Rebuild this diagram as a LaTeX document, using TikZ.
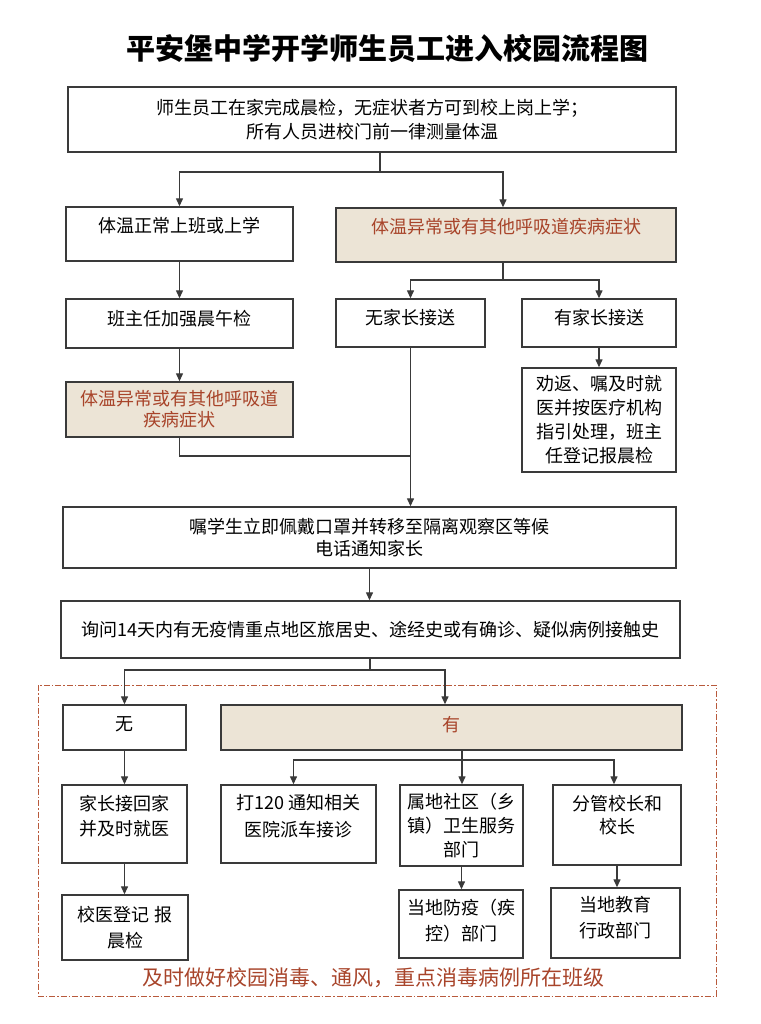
\documentclass[tikz,border=0pt]{standalone}
\usepackage{fontspec}
\setmainfont{Noto Sans CJK SC}
\usetikzlibrary{arrows.meta}

\definecolor{hotred}{HTML}{A8442A}
\definecolor{hotfill}{HTML}{ECE4D6}
\definecolor{framered}{HTML}{B85A3C}
\definecolor{linegray}{HTML}{3A3A3A}

\begin{document}
\begin{tikzpicture}[x=1pt,y=-1pt,
    box/.style={draw=linegray, line width=1.4pt, align=center, inner sep=0pt,
      font=\fontsize{18}{24}\selectfont},
    hot/.style={box, fill=hotfill, text=hotred},
    lift/.style={text depth=#1},
    link/.style={linegray, line width=1.3pt},
    arr/.style={link, -{Triangle[length=8pt,width=7pt]}}]
        \useasboundingbox (0,0) rectangle (760,1024);

        % title
        \node[font=\fontsize{29}{34}\selectfont\bfseries] (title) at (387,48) {平安堡中学开学师生员工进入校园流程图};

        % dash-dot frame of the lower part
        \draw[framered, line width=1pt, dash pattern=on 6pt off 2pt on 1.5pt off 2pt] (38,685) rectangle (716,996);

        % upper part
        \node[box, minimum width=608pt, minimum height=65pt] (start) at (372,119.5)
            {师生员工在家完成晨检，无症状者方可到校上岗上学；\\所有人员进校门前一律测量体温};
        \node[box, lift=18pt, minimum width=227pt, minimum height=54pt] (normal) at (179.5,234) {体温正常上班或上学};
        \node[hot, lift=18pt, minimum width=340pt, minimum height=54pt] (fever) at (506,235) {体温异常或有其他呼吸道疾病症状};
        \node[box, lift=12pt, minimum width=227pt, minimum height=49pt] (check) at (179.5,323.5) {班主任加强晨午检};
        \node[box, lift=12pt, minimum width=149pt, minimum height=48pt] (nopar) at (410.5,323) {无家长接送};
        \node[box, lift=12pt, minimum width=154pt, minimum height=48pt] (haspar) at (599,323) {有家长接送};
        \node[box, minimum width=154pt, minimum height=104pt] (advise) at (599,420)
            {劝返、嘱及时就\\医并按医疗机构\\指引处理，班主\\任登记报晨检};
        \node[hot, font=\fontsize{18}{21}\selectfont, minimum width=227pt, minimum height=55pt] (fever2) at (179.5,409.5)
            {体温异常或有其他呼吸道\\疾病症状};
        \node[box, font=\fontsize{18}{22}\selectfont, minimum width=613pt, minimum height=61pt] (isolate) at (369.5,537.5)
            {嘱学生立即佩戴口罩并转移至隔离观察区等候\\电话通知家长};
        \node[box, minimum width=619pt, minimum height=57pt] (ask) at (370.5,629.5)
            {询问14天内有无疫情重点地区旅居史、途经史或有确诊、疑似病例接触史};

        % lower part
        \node[box, lift=8pt, minimum width=123pt, minimum height=45pt] (none) at (124.5,727.5) {无};
        \node[hot, lift=8pt, minimum width=461pt, minimum height=45pt] (yes) at (451.5,727.5) {有};
        \node[box, font=\fontsize{18}{25}\selectfont, lift=18pt, minimum width=125pt, minimum height=78pt] (home) at (124.5,824)
            {家长接回家\\并及时就医};
        \node[box, font=\fontsize{18}{27}\selectfont, lift=18pt, minimum width=155pt, minimum height=78pt] (call) at (298.5,824)
            {打120\ 通知相关\\医院派车接诊};
        \node[box, minimum width=123pt, minimum height=81pt] (local) at (461.5,825.5)
            {属地社区（乡\\镇）卫生服务\\部门};
        \node[box, font=\fontsize{18}{23}\selectfont, lift=22pt, minimum width=128pt, minimum height=80pt] (head) at (617,825)
            {分管校长和\\校长};
        \node[box, font=\fontsize{18}{26}\selectfont, minimum width=126pt, minimum height=65pt] (record) at (125,927.5)
            {校医登记\ 报\\晨检};
        \node[box, font=\fontsize{18}{26}\selectfont, lift=8pt, minimum width=124pt, minimum height=68pt] (cdc) at (461,924)
            {当地防疫（疾\\控）部门};
        \node[box, font=\fontsize{18}{26}\selectfont, lift=12pt, minimum width=129pt, minimum height=70pt] (edu) at (615.5,923)
            {当地教育\\行政部门};

        \node[text=hotred, font=\fontsize{21}{24}\selectfont] (note) at (373,978) {及时做好校园消毒、通风，重点消毒病例所在班级};

        % connectors
        \coordinate (s1) at (380,172);
        \draw[link] (s1 |- start.south) -- (s1);
        \draw[arr] (s1) -| (normal.north);
        \draw[arr] (s1) -| ([xshift=-3pt]fever.north);

        \coordinate (s2) at (503,280);
        \draw[link] (s2 |- fever.south) -- (s2);
        \draw[arr] (s2) -| (nopar.north);
        \draw[arr] (s2) -| (haspar.north);

        \draw[arr] (normal.south) -- (check.north);
        \draw[arr] (check.south) -- (fever2.north);
        \draw[arr] (haspar.south) -- (advise.north);

        \coordinate (j1) at (nopar.south |- 0,456);
        \draw[link] (fever2.south) |- (j1);
        \draw[arr] (nopar.south) -- (nopar.south |- isolate.north);
        \draw[arr] (isolate.south) -- (isolate.south |- ask.north);

        \coordinate (s3) at (370,670);
        \draw[link] (s3 |- ask.south) -- (s3);
        \draw[arr] (s3) -| (none.north);
        \draw[arr] (s3) -| ([xshift=-6.5pt]yes.north);

        \coordinate (s4) at (462,760);
        \draw[link] (s4 |- yes.south) -- (s4);
        \draw[arr] (s4) -| ([xshift=-5pt]call.north);
        \draw[arr] (s4) -- (s4 |- local.north);
        \draw[arr] (s4) -| ([xshift=-3pt]head.north);

        \draw[arr] (none.south) -- (home.north);
        \draw[arr] (home.south) -- (home.south |- record.north);
        \draw[arr] (local.south) -- (local.south |- cdc.north);
        \draw[arr] (head.south) -- (head.south |- edu.north);
    \end{tikzpicture}
\end{document}
